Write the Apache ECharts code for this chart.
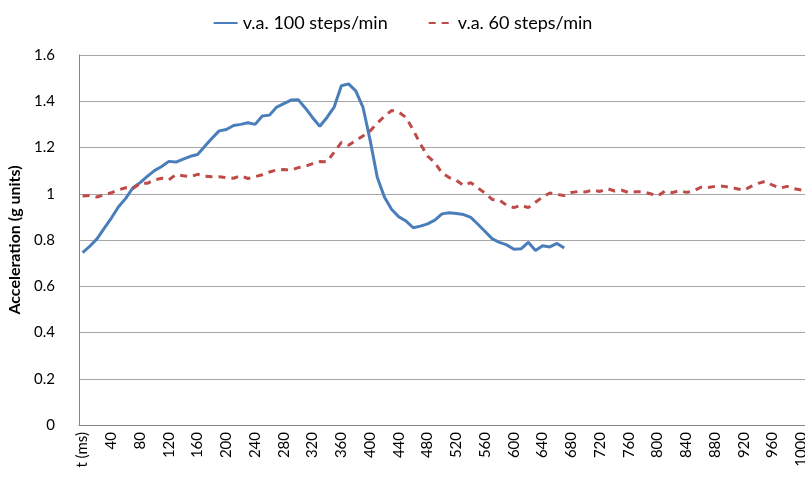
<!DOCTYPE html>
<html>
<head>
<meta charset="utf-8">
<script src="https://cdn.jsdelivr.net/npm/echarts@6/dist/echarts.min.js"></script>
<style>
    html, body {margin: 0; padding: 0; background: #fff;}
    #accChart {width: 805px; height: 486px;}
</style>
</head>
<body>
<div id="accChart"></div>
<script>
// time categories, 10 ms apart (first cell is the column header)
var timeLabels = ['t (ms)','10','20','30','40','50','60','70','80','90',
    '100','110','120','130','140','150','160','170','180','190',
    '200','210','220','230','240','250','260','270','280','290',
    '300','310','320','330','340','350','360','370','380','390',
    '400','410','420','430','440','450','460','470','480','490',
    '500','510','520','530','540','550','560','570','580','590',
    '600','610','620','630','640','650','660','670','680','690',
    '700','710','720','730','740','750','760','770','780','790',
    '800','810','820','830','840','850','860','870','880','890',
    '900','910','920','930','940','950','960','970','980','990','1000'];

var seriesNames = ['v.a. 100 steps/min', 'v.a. 60 steps/min'];

var acc100 = [0.745,0.773,0.805,0.85,0.895,0.944,0.98,1.026,1.048,1.075,
    1.10,1.118,1.14,1.137,1.15,1.162,1.17,1.205,1.24,1.272,
    1.278,1.295,1.30,1.307,1.30,1.336,1.34,1.375,1.39,1.405,
    1.407,1.37,1.329,1.292,1.33,1.375,1.467,1.475,1.445,1.375,
    1.232,1.07,0.985,0.932,0.90,0.882,0.853,0.86,0.87,0.886,
    0.913,0.918,0.915,0.91,0.898,0.868,0.837,0.805,0.79,0.779,
    0.76,0.762,0.79,0.755,0.775,0.77,0.785,0.765];

var acc60 = [0.99,0.992,0.986,0.996,1.004,1.017,1.026,1.022,1.045,1.045,
    1.06,1.067,1.06,1.083,1.078,1.074,1.084,1.076,1.074,1.074,
    1.07,1.067,1.078,1.066,1.074,1.082,1.094,1.103,1.105,1.102,
    1.113,1.119,1.13,1.139,1.138,1.18,1.222,1.21,1.23,1.25,
    1.272,1.305,1.336,1.36,1.353,1.33,1.275,1.215,1.163,1.135,
    1.09,1.07,1.058,1.036,1.048,1.025,1.002,0.975,0.972,0.95,
    0.94,0.95,0.94,0.963,0.986,1.003,0.997,0.992,1.005,1.01,
    1.008,1.016,1.01,1.022,1.012,1.015,1.005,1.009,1.008,1.0,
    0.99,1.011,1.005,1.013,1.006,1.012,1.028,1.027,1.032,1.033,
    1.028,1.022,1.015,1.032,1.045,1.054,1.037,1.024,1.032,1.022,1.016];

var fontName = 'Lato';

var option = {
    animation: false,
    color: ['#4a7ebb', '#be4b48'],
    textStyle: {fontFamily: fontName},
    legend: {
        top: 9,
        left: 'center',
        itemWidth: 24,
        itemHeight: 12,
        itemGap: 40,
        itemStyle: {opacity: 0},   // line only, no dot in the key
        textStyle: {fontFamily: fontName, fontSize: 18, color: '#000'},
        data: seriesNames
    },
    grid: {
        left: 79,
        right: 0,
        top: 55,
        bottom: 61,
        containLabel: false,
        outerBoundsMode: 'none'
    },
    xAxis: {
        type: 'category',
        boundaryGap: true,
        data: timeLabels,
        axisLine: {show: true, lineStyle: {color: '#868686', width: 1}},
        axisTick: {show: false},
        axisLabel: {
            interval: 3,
            rotate: 90,
            margin: 7,
            fontFamily: fontName,
            fontSize: 15,
            color: '#000'
        }
    },
    yAxis: {
        type: 'value',
        min: 0,
        max: 1.6,
        interval: 0.2,
        name: 'Acceleration (g units)',
        nameLocation: 'middle',
        nameRotate: 90,
        nameGap: 54,
        nameTextStyle: {fontFamily: fontName, fontSize: 16, fontWeight: 'bold', color: '#000'},
        axisLine: {show: true, lineStyle: {color: '#868686', width: 1}},
        axisTick: {show: false},
        axisLabel: {margin: 24, fontFamily: fontName, fontSize: 15, color: '#000'},
        splitLine: {show: true, lineStyle: {color: '#a6a6a6', width: 1}}
    },
    series: [
        {
            name: seriesNames[0],
            type: 'line',
            symbol: 'none',
            lineStyle: {width: 3, color: '#4a7ebb'},
            data: acc100
        },
        {
            name: seriesNames[1],
            type: 'line',
            symbol: 'none',
            lineStyle: {width: 3, color: '#be4b48', type: [7, 6]},
            data: acc60
        }
    ]
};

var panel = document.getElementById('accChart');
var chart = echarts.init(panel);
chart.setOption(option);
</script>
</body>
</html>
